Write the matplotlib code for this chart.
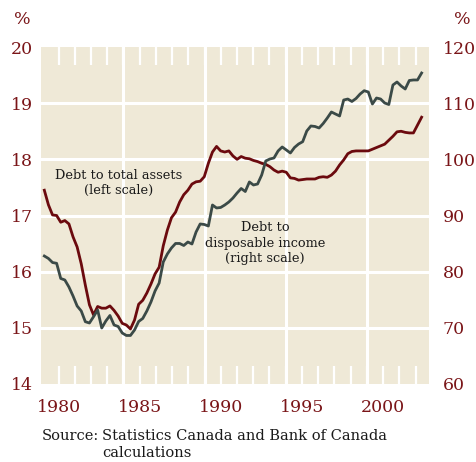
import numpy as np
import matplotlib.pyplot as plt

# quarterly, 1979Q1 .. 2002Q1
assets = [17.45, 17.19, 17.01, 17.00, 16.88, 16.91, 16.85, 16.62, 16.44, 16.14,
          15.76, 15.41, 15.23, 15.38, 15.35, 15.35, 15.39, 15.31, 15.21, 15.08,
          15.05, 14.98, 15.14, 15.42, 15.49, 15.62, 15.78, 15.96, 16.08, 16.46,
          16.74, 16.96, 17.06, 17.24, 17.37, 17.45, 17.56, 17.60, 17.61, 17.69,
          17.93, 18.13, 18.23, 18.15, 18.13, 18.15, 18.06, 18.00, 18.05, 18.02,
          18.01, 17.98, 17.96, 17.93, 17.91, 17.87, 17.81, 17.77, 17.79, 17.77,
          17.67, 17.66, 17.63, 17.64, 17.65, 17.65, 17.65, 17.68, 17.69, 17.68,
          17.72, 17.79, 17.90, 17.99, 18.10, 18.14, 18.15, 18.15, 18.15, 18.15,
          18.18, 18.21, 18.24, 18.27, 18.34, 18.41, 18.49, 18.50, 18.48, 18.47,
          18.47, 18.61, 18.75]
income = [82.79, 82.35, 81.63, 81.49, 78.79, 78.52, 77.27, 75.67, 73.89, 73.00,
          71.09, 70.86, 71.98, 73.18, 69.97, 71.22, 72.20, 70.51, 70.24, 69.08,
          68.64, 68.64, 69.62, 71.13, 71.67, 73.00, 74.60, 76.56, 77.98, 81.72,
          83.15, 84.22, 85.02, 85.02, 84.66, 85.28, 84.93, 87.06, 88.49, 88.40,
          88.13, 91.87, 91.34, 91.43, 91.87, 92.41, 93.12, 94.01, 94.81, 94.27,
          95.97, 95.43, 95.61, 97.21, 99.71, 100.06, 100.24, 101.49, 102.20, 101.67,
          101.13, 102.11, 102.73, 103.14, 105.05, 105.94, 105.85, 105.58, 106.38, 107.36,
          108.43, 108.07, 107.72, 110.56, 110.74, 110.30, 110.83, 111.63, 112.22, 111.99,
          109.85, 110.92, 110.74, 110.03, 109.76, 113.23, 113.77, 113.06, 112.52, 114.04,
          114.13, 114.13, 115.37]
years = np.linspace(1979.125, 2002.375, len(assets))

left_ticks = [14, 15, 16, 17, 18, 19, 20]
right_ticks = [60, 70, 80, 90, 100, 110, 120]
year_labels = [1980, 1985, 1990, 1995, 2000]

red = "#6b0a0e"
grey = "#3b4a47"
label_col = "#7a1518"
bg = "#efe9d7"
txt = "#1a1a1a"

plt.rcParams["font.family"] = ["DejaVu Serif"]

fig = plt.figure(figsize=(4.77, 4.62), dpi=100)
ax = fig.add_axes([41/477, 1 - 384/462, 388/477, 337/462])
ax.set_facecolor(bg)
ax.set_xlim(1978.92, 2002.83)
ax.set_ylim(14, 20)
for s in ax.spines.values():
    s.set_visible(False)

# white grid
for yv in left_ticks[1:-1]:
    ax.axhline(yv, color="white", lw=2.2, zorder=1)
for xv in [1984, 1989, 1994, 1999]:
    ax.axvline(xv, color="white", lw=2.2, zorder=1)

ax.set_xticks(year_labels)
ax.set_xticks(range(1980, 2003), minor=True)
ax.tick_params(axis="x", which="both", direction="in", top=True, bottom=True,
               length=13, width=1.6, color="white", pad=11,
               labelsize=12.5, labelcolor=label_col)
ax.set_yticks(left_ticks)
ax.tick_params(axis="y", length=0, pad=6, labelsize=12.5, labelcolor=label_col)
ax.set_axisbelow(True)

ax.plot(years, assets, color=red, lw=2, zorder=3)

ax2 = ax.twinx()
ax2.set_ylim(60, 120)
ax2.set_yticks(right_ticks)
ax2.tick_params(axis="y", length=0, pad=10, labelsize=12.5, labelcolor=label_col)
for s in ax2.spines.values():
    s.set_visible(False)
ax2.plot(years, income, color=grey, lw=2, zorder=3)

ax.text(1983.73, 17.58, "Debt to total assets\n(left scale)", ha="center", va="center",
        fontsize=9.3, color=txt, linespacing=1.25, zorder=4)
ax.text(1992.72, 16.51, "Debt to\ndisposable income\n(right scale)", ha="center", va="center",
        fontsize=9.3, color=txt, linespacing=1.25, zorder=4)

fig.text(22/477, 1 - 20/462, "%", ha="center", va="center", fontsize=12.5, color=label_col)
fig.text(462/477, 1 - 20/462, "%", ha="center", va="center", fontsize=12.5, color=label_col)

fig.text(42/477, 1 - 440/462, "Source:", ha="left", va="baseline", fontsize=10.5, color=txt)
fig.text(102/477, 1 - 440/462, "Statistics Canada and Bank of Canada",
         ha="left", va="baseline", fontsize=10.5, color=txt)
fig.text(102/477, 1 - 457/462, "calculations",
         ha="left", va="baseline", fontsize=10.5, color=txt)

fig.savefig("out.png", dpi=100)
